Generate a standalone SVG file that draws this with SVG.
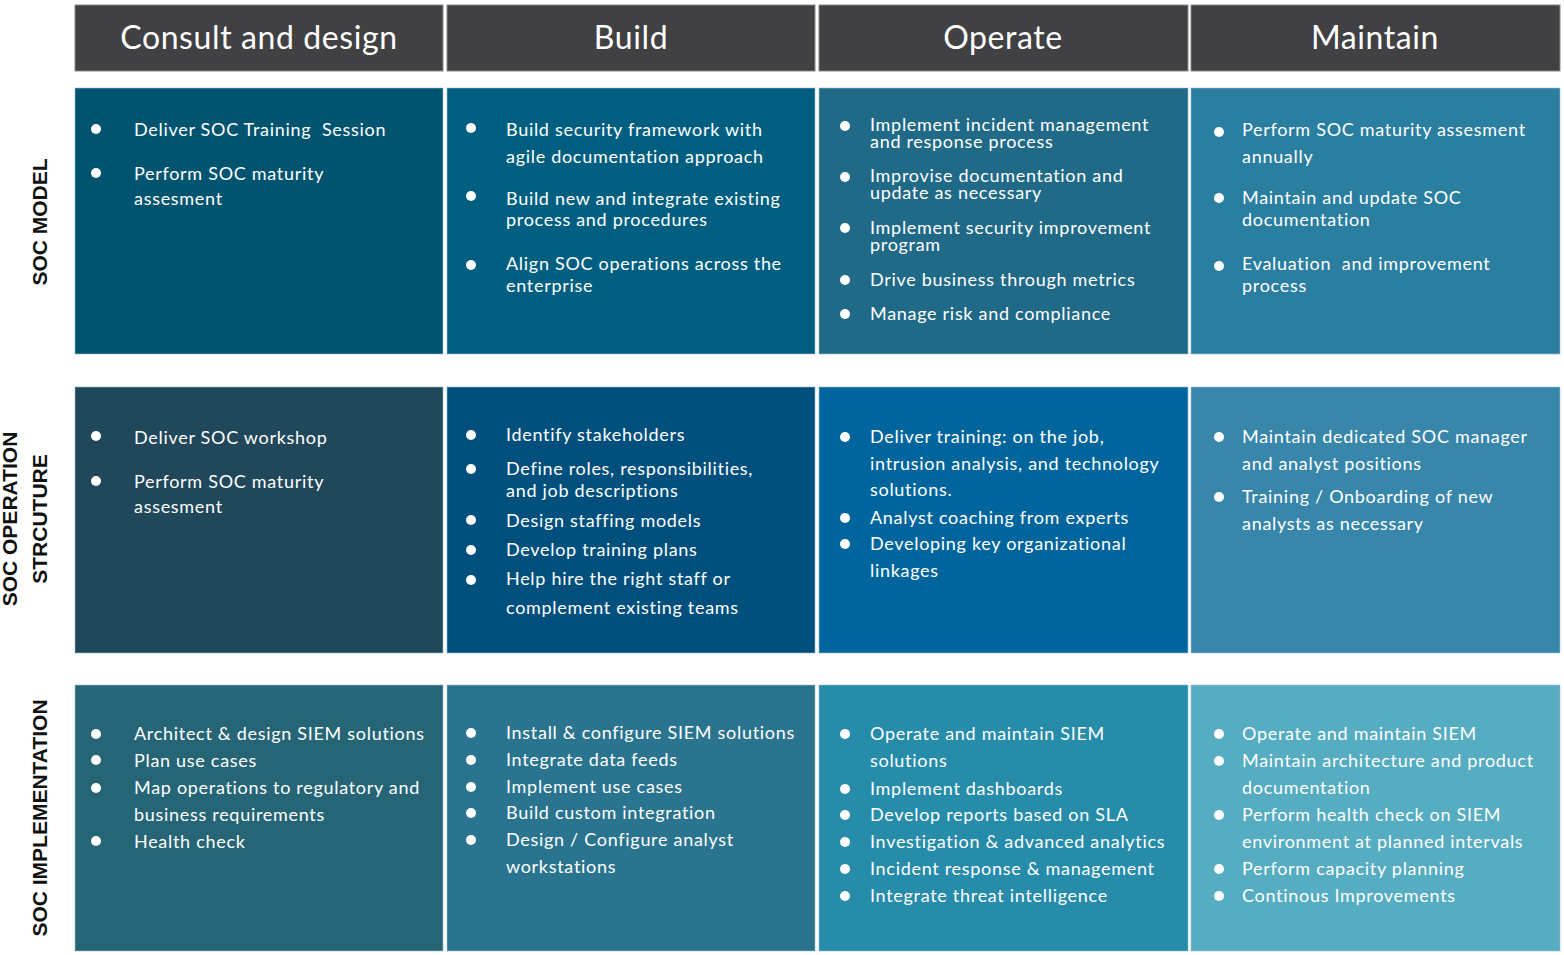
<svg xmlns="http://www.w3.org/2000/svg" width="1564" height="955" viewBox="0 0 1564 955">
<style>
.hd{fill:#414042;stroke:#8a8a8a;stroke-width:1}
.ht{font-family:"Lato","Liberation Sans",sans-serif;font-size:32px;fill:#fff;text-anchor:middle;letter-spacing:0.6px}
.cell{stroke:#9cc3d3;stroke-width:1;stroke-opacity:0.6}
.t{font-family:"Lato","Liberation Sans",sans-serif;font-size:18px;fill:#fff;letter-spacing:0.7px;white-space:pre}
.b{fill:#fff}
.lbl{font-family:"Liberation Sans",sans-serif;font-size:21px;font-weight:bold;fill:#111;text-anchor:middle}
</style>
<rect width="1564" height="955" fill="#fff"/>
<g id="headers">
<rect class="hd" x="75" y="5" width="368" height="66"/>
<rect class="hd" x="447" y="5" width="368" height="66"/>
<rect class="hd" x="819" y="5" width="369" height="66"/>
<rect class="hd" x="1191" y="5" width="369" height="66"/>
<text class="ht" x="259" y="49">Consult and design</text>
<text class="ht" x="631" y="49">Build</text>
<text class="ht" x="1003" y="49">Operate</text>
<text class="ht" x="1375" y="49">Maintain</text>
</g>
<g id="row-labels">
<text class="lbl" transform="translate(47,222) rotate(-90)">SOC MODEL</text>
<text class="lbl" transform="translate(17,519) rotate(-90)">SOC OPERATION</text>
<text class="lbl" transform="translate(47,519) rotate(-90)">STRCUTURE</text>
<text class="lbl" transform="translate(47,818) rotate(-90)">SOC IMPLEMENTATION</text>
</g>
<g id="r1c1">
<rect class="cell" x="75" y="88" width="368" height="266" fill="#01546f"/>
<circle class="b" cx="96" cy="129" r="5"/><circle class="b" cx="96" cy="173" r="5"/>
<text class="t" x="134" y="136">Deliver SOC Training  Session</text>
<text class="t" x="134" y="180">Perform SOC maturity</text>
<text class="t" x="134" y="205">assesment</text>
</g>
<g id="r1c2">
<rect class="cell" x="447" y="88" width="368" height="266" fill="#005f80"/>
<circle class="b" cx="471" cy="128" r="5"/><circle class="b" cx="471" cy="196" r="5"/><circle class="b" cx="471" cy="265" r="5"/>
<text class="t" x="506" y="136">Build security framework with</text>
<text class="t" x="506" y="163">agile documentation approach</text>
<text class="t" x="506" y="205">Build new and integrate existing</text>
<text class="t" x="506" y="226">process and procedures</text>
<text class="t" x="506" y="270">Align SOC operations across the</text>
<text class="t" x="506" y="292">enterprise</text>
</g>
<g id="r1c3">
<rect class="cell" x="819" y="88" width="369" height="266" fill="#206a87"/>
<circle class="b" cx="845" cy="126" r="5"/><circle class="b" cx="845" cy="177" r="5"/><circle class="b" cx="845" cy="228" r="5"/><circle class="b" cx="845" cy="280" r="5"/><circle class="b" cx="845" cy="314" r="5"/>
<text class="t" x="870" y="131">Implement incident management</text>
<text class="t" x="870" y="148">and response process</text>
<text class="t" x="870" y="182">Improvise documentation and</text>
<text class="t" x="870" y="199">update as necessary</text>
<text class="t" x="870" y="234">Implement security improvement</text>
<text class="t" x="870" y="251">program</text>
<text class="t" x="870" y="286">Drive business through metrics</text>
<text class="t" x="870" y="320">Manage risk and compliance</text>
</g>
<g id="r1c4">
<rect class="cell" x="1191" y="88" width="369" height="266" fill="#2a7ea0"/>
<circle class="b" cx="1219" cy="132" r="5"/><circle class="b" cx="1219" cy="198" r="5"/><circle class="b" cx="1219" cy="266" r="5"/>
<text class="t" x="1242" y="136">Perform SOC maturity assesment</text>
<text class="t" x="1242" y="163">annually</text>
<text class="t" x="1242" y="204">Maintain and update SOC</text>
<text class="t" x="1242" y="226">documentation</text>
<text class="t" x="1242" y="270">Evaluation  and improvement</text>
<text class="t" x="1242" y="292">process</text>
</g>
<g id="r2c1">
<rect class="cell" x="75" y="387" width="368" height="266" fill="#20475a"/>
<circle class="b" cx="96" cy="436" r="5"/><circle class="b" cx="96" cy="481" r="5"/>
<text class="t" x="134" y="444">Deliver SOC workshop</text>
<text class="t" x="134" y="488">Perform SOC maturity</text>
<text class="t" x="134" y="513">assesment</text>
</g>
<g id="r2c2">
<rect class="cell" x="447" y="387" width="368" height="266" fill="#004f7d"/>
<circle class="b" cx="471" cy="435" r="5"/><circle class="b" cx="471" cy="469" r="5"/><circle class="b" cx="471" cy="520" r="5"/><circle class="b" cx="471" cy="550" r="5"/><circle class="b" cx="471" cy="580" r="5"/>
<text class="t" x="506" y="441">Identify stakeholders</text>
<text class="t" x="506" y="475">Define roles, responsibilities,</text>
<text class="t" x="506" y="497">and job descriptions</text>
<text class="t" x="506" y="527">Design staffing models</text>
<text class="t" x="506" y="556">Develop training plans</text>
<text class="t" x="506" y="585">Help hire the right staff or</text>
<text class="t" x="506" y="614">complement existing teams</text>
</g>
<g id="r2c3">
<rect class="cell" x="819" y="387" width="369" height="266" fill="#00659c"/>
<circle class="b" cx="845" cy="437" r="5"/><circle class="b" cx="845" cy="518" r="5"/><circle class="b" cx="845" cy="544" r="5"/>
<text class="t" x="870" y="443">Deliver training: on the job,</text>
<text class="t" x="870" y="470">intrusion analysis, and technology</text>
<text class="t" x="870" y="496">solutions.</text>
<text class="t" x="870" y="524">Analyst coaching from experts</text>
<text class="t" x="870" y="550">Developing key organizational</text>
<text class="t" x="870" y="577">linkages</text>
</g>
<g id="r2c4">
<rect class="cell" x="1191" y="387" width="369" height="266" fill="#3886aa"/>
<circle class="b" cx="1219" cy="437" r="5"/><circle class="b" cx="1219" cy="497" r="5"/>
<text class="t" x="1242" y="443">Maintain dedicated SOC manager</text>
<text class="t" x="1242" y="470">and analyst positions</text>
<text class="t" x="1242" y="503">Training / Onboarding of new</text>
<text class="t" x="1242" y="530">analysts as necessary</text>
</g>
<g id="r3c1">
<rect class="cell" x="75" y="685" width="368" height="266" fill="#266575"/>
<circle class="b" cx="96" cy="734" r="5"/><circle class="b" cx="96" cy="760" r="5"/><circle class="b" cx="96" cy="788" r="5"/><circle class="b" cx="96" cy="841" r="5"/>
<text class="t" x="134" y="740">Architect &amp; design SIEM solutions</text>
<text class="t" x="134" y="767">Plan use cases</text>
<text class="t" x="134" y="794">Map operations to regulatory and</text>
<text class="t" x="134" y="821">business requirements</text>
<text class="t" x="134" y="848">Health check</text>
</g>
<g id="r3c2">
<rect class="cell" x="447" y="685" width="368" height="266" fill="#2b7490"/>
<circle class="b" cx="471" cy="733" r="5"/><circle class="b" cx="471" cy="760" r="5"/><circle class="b" cx="471" cy="787" r="5"/><circle class="b" cx="471" cy="813" r="5"/><circle class="b" cx="471" cy="840" r="5"/>
<text class="t" x="506" y="739">Install &amp; configure SIEM solutions</text>
<text class="t" x="506" y="766">Integrate data feeds</text>
<text class="t" x="506" y="793">Implement use cases</text>
<text class="t" x="506" y="819">Build custom integration</text>
<text class="t" x="506" y="846">Design / Configure analyst</text>
<text class="t" x="506" y="873">workstations</text>
</g>
<g id="r3c3">
<rect class="cell" x="819" y="685" width="369" height="266" fill="#268ca9"/>
<circle class="b" cx="845" cy="734" r="5"/><circle class="b" cx="845" cy="789" r="5"/><circle class="b" cx="845" cy="815" r="5"/><circle class="b" cx="845" cy="842" r="5"/><circle class="b" cx="845" cy="869" r="5"/><circle class="b" cx="845" cy="896" r="5"/>
<text class="t" x="870" y="740">Operate and maintain SIEM</text>
<text class="t" x="870" y="767">solutions</text>
<text class="t" x="870" y="795">Implement dashboards</text>
<text class="t" x="870" y="821">Develop reports based on SLA</text>
<text class="t" x="870" y="848">Investigation &amp; advanced analytics</text>
<text class="t" x="870" y="875">Incident response &amp; management</text>
<text class="t" x="870" y="902">Integrate threat intelligence</text>
</g>
<g id="r3c4">
<rect class="cell" x="1191" y="685" width="369" height="266" fill="#56acc0"/>
<circle class="b" cx="1219" cy="734" r="5"/><circle class="b" cx="1219" cy="761" r="5"/><circle class="b" cx="1219" cy="815" r="5"/><circle class="b" cx="1219" cy="869" r="5"/><circle class="b" cx="1219" cy="896" r="5"/>
<text class="t" x="1242" y="740">Operate and maintain SIEM</text>
<text class="t" x="1242" y="767">Maintain architecture and product</text>
<text class="t" x="1242" y="794">documentation</text>
<text class="t" x="1242" y="821">Perform health check on SIEM</text>
<text class="t" x="1242" y="848">environment at planned intervals</text>
<text class="t" x="1242" y="875">Perform capacity planning</text>
<text class="t" x="1242" y="902">Continous Improvements</text>
</g>
</svg>
